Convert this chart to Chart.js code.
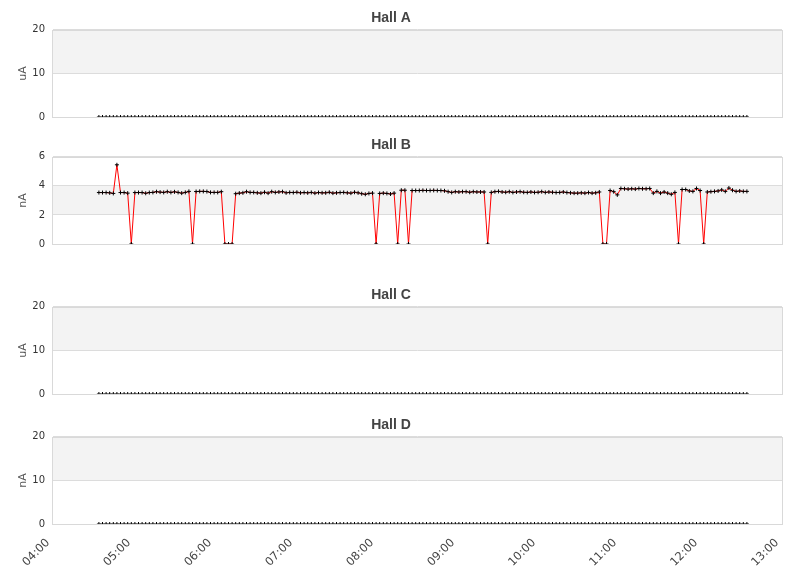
<!DOCTYPE html>
<html><head><meta charset="utf-8">
<script src="https://cdn.jsdelivr.net/npm/chart.js@4.4.1/dist/chart.umd.min.js"></script>
<style>
html,body{margin:0;padding:0;background:#fff;}
#wrap{position:relative;width:811px;height:578px;overflow:hidden;background:#fff;}
canvas{position:absolute;left:0;}
</style></head><body>
<div id="wrap">
<canvas id="cA" width="811" height="131" style="top:0px;width:811px;height:131px"></canvas>
<canvas id="cB" width="811" height="131" style="top:127px;width:811px;height:131px"></canvas>
<canvas id="cC" width="811" height="131" style="top:277px;width:811px;height:131px"></canvas>
<canvas id="cD" width="811" height="171" style="top:407px;width:811px;height:171px"></canvas>
</div>
<script>
// ---- data ----
const panelTitles = ['Hall A', 'Hall B', 'Hall C', 'Hall D'];
const panelUnits = ['uA', 'nA', 'uA', 'nA'];
const xTickMinutes = [240, 300, 360, 420, 480, 540, 600, 660, 720, 780]; // 04:00 .. 13:00
const sampleStartMinute = 274;   // 04:34
const sampleEndMinute = 754;     // 12:34

const hallBValues = [
  3.54, 3.54, 3.54, 3.52, 3.48, 5.45, 3.54, 3.54, 3.50, 0,
  3.54, 3.54, 3.54, 3.49, 3.54, 3.55, 3.60, 3.57, 3.55, 3.60,
  3.55, 3.59, 3.55, 3.50, 3.55, 3.62, 0, 3.61, 3.62, 3.62,
  3.61, 3.55, 3.55, 3.55, 3.60, 0, 0, 0, 3.46, 3.50,
  3.52, 3.60, 3.55, 3.55, 3.52, 3.50, 3.56, 3.50, 3.60, 3.55,
  3.58, 3.60, 3.52, 3.55, 3.54, 3.56, 3.52, 3.54, 3.52, 3.55,
  3.50, 3.54, 3.52, 3.52, 3.56, 3.50, 3.52, 3.54, 3.55, 3.52,
  3.50, 3.56, 3.52, 3.46, 3.42, 3.48, 3.50, 0, 3.48, 3.50,
  3.48, 3.44, 3.50, 0, 3.70, 3.70, 0, 3.68, 3.68, 3.68,
  3.69, 3.68, 3.68, 3.69, 3.68, 3.68, 3.66, 3.60, 3.55, 3.60,
  3.58, 3.60, 3.60, 3.56, 3.60, 3.58, 3.58, 3.58, 0, 3.55,
  3.60, 3.62, 3.58, 3.56, 3.60, 3.55, 3.58, 3.60, 3.56, 3.55,
  3.58, 3.55, 3.56, 3.60, 3.55, 3.58, 3.56, 3.54, 3.55, 3.58,
  3.54, 3.52, 3.50, 3.50, 3.52, 3.50, 3.54, 3.50, 3.52, 3.58,
  0, 0, 3.68, 3.60, 3.38, 3.82, 3.80, 3.78, 3.80, 3.78,
  3.82, 3.80, 3.80, 3.82, 3.50, 3.62, 3.50, 3.58, 3.50, 3.42,
  3.55, 0, 3.75, 3.75, 3.65, 3.62, 3.82, 3.68, 0, 3.58,
  3.60, 3.62, 3.65, 3.72, 3.62, 3.85, 3.70, 3.62, 3.65, 3.62, 3.62
];

const hallAValues = [
  0,0,0,0,0,0,0,0,0,0,0,0,0,0,0,0,0,0,0,0,
  0,0,0,0,0,0,0,0,0,0,0,0,0,0,0,0,0,0,0,0,
  0,0,0,0,0,0,0,0,0,0,0,0,0,0,0,0,0,0,0,0,
  0,0,0,0,0,0,0,0,0,0,0,0,0,0,0,0,0,0,0,0,
  0,0,0,0,0,0,0,0,0,0,0,0,0,0,0,0,0,0,0,0,
  0,0,0,0,0,0,0,0,0,0,0,0,0,0,0,0,0,0,0,0,
  0,0,0,0,0,0,0,0,0,0,0,0,0,0,0,0,0,0,0,0,
  0,0,0,0,0,0,0,0,0,0,0,0,0,0,0,0,0,0,0,0,
  0,0,0,0,0,0,0,0,0,0,0,0,0,0,0,0,0,0,0,0,
  0
];
const hallCValues = [
  0,0,0,0,0,0,0,0,0,0,0,0,0,0,0,0,0,0,0,0,
  0,0,0,0,0,0,0,0,0,0,0,0,0,0,0,0,0,0,0,0,
  0,0,0,0,0,0,0,0,0,0,0,0,0,0,0,0,0,0,0,0,
  0,0,0,0,0,0,0,0,0,0,0,0,0,0,0,0,0,0,0,0,
  0,0,0,0,0,0,0,0,0,0,0,0,0,0,0,0,0,0,0,0,
  0,0,0,0,0,0,0,0,0,0,0,0,0,0,0,0,0,0,0,0,
  0,0,0,0,0,0,0,0,0,0,0,0,0,0,0,0,0,0,0,0,
  0,0,0,0,0,0,0,0,0,0,0,0,0,0,0,0,0,0,0,0,
  0,0,0,0,0,0,0,0,0,0,0,0,0,0,0,0,0,0,0,0,
  0
];
const hallDValues = [
  0,0,0,0,0,0,0,0,0,0,0,0,0,0,0,0,0,0,0,0,
  0,0,0,0,0,0,0,0,0,0,0,0,0,0,0,0,0,0,0,0,
  0,0,0,0,0,0,0,0,0,0,0,0,0,0,0,0,0,0,0,0,
  0,0,0,0,0,0,0,0,0,0,0,0,0,0,0,0,0,0,0,0,
  0,0,0,0,0,0,0,0,0,0,0,0,0,0,0,0,0,0,0,0,
  0,0,0,0,0,0,0,0,0,0,0,0,0,0,0,0,0,0,0,0,
  0,0,0,0,0,0,0,0,0,0,0,0,0,0,0,0,0,0,0,0,
  0,0,0,0,0,0,0,0,0,0,0,0,0,0,0,0,0,0,0,0,
  0,0,0,0,0,0,0,0,0,0,0,0,0,0,0,0,0,0,0,0,
  0
];
const yMaxes = [20, 6, 20, 20];
const ySteps = [10, 2, 10, 10];

// ---- rendering ----
Chart.defaults.font.family = "'DejaVu Sans', sans-serif";

function sampleTimes(n) {
  const step = (sampleEndMinute - sampleStartMinute) / (n - 1);
  const out = [];
  for (let i = 0; i < n; i++) out.push(sampleStartMinute + i * step);
  return out;
}
function fmtTime(m) {
  const h = Math.floor(m / 60), mm = Math.round(m % 60);
  return String(h).padStart(2, '0') + ':' + String(mm).padStart(2, '0');
}

const bandPlugin = {
  id: 'bands',
  beforeDraw(chart) {
    const { ctx, chartArea: a } = chart;
    const y = chart.scales.y;
    const t = y.ticks;
    ctx.save();
    for (let i = 0; i < t.length - 1; i++) {
      if (i % 2 === 1) {
        const y0 = y.getPixelForValue(t[i].value);
        const y1 = y.getPixelForValue(t[i + 1].value);
        ctx.fillStyle = '#f3f3f3';
        ctx.fillRect(a.left, y1, a.right - a.left, y0 - y1);
      }
    }
    ctx.restore();
  },
  beforeDatasetsDraw(chart) {
    const { ctx, chartArea: a } = chart;
    ctx.save();
    ctx.strokeStyle = '#d9d9d9';
    ctx.lineWidth = 1;
    const l = Math.round(a.left) - 0.5, t = Math.round(a.top) + 0.5;
    const r = Math.round(a.right) + 0.5, b = Math.round(a.bottom) + 0.5;
    ctx.strokeRect(l, t, r - l, b - t);
    ctx.restore();
  }
};

const seriesList = [hallAValues, hallBValues, hallCValues, hallDValues];
const canvasIds = ['cA', 'cB', 'cC', 'cD'];

canvasIds.forEach((id, k) => {
  const vals = seriesList[k];
  const times = sampleTimes(vals.length);
  const showX = (k === 3);
  const hasLine = (k === 1);
  new Chart(document.getElementById(id), {
    type: 'line',
    data: {
      datasets: [{
        data: vals.map((v, i) => ({ x: times[i], y: v })),
        borderColor: '#ff0000',
        borderWidth: 1,
        showLine: hasLine,
        tension: 0,
        pointStyle: 'cross',
        pointRadius: 2,
        pointHoverRadius: 2,
        pointBorderColor: '#000000',
        pointBorderWidth: 1,
        fill: false
      }]
    },
    options: {
      responsive: false,
      animation: false,
      events: [],
      layout: { padding: { left: 0, right: 29, top: 0, bottom: showX ? 0 : 2 } },
      plugins: {
        legend: { display: false },
        tooltip: { enabled: false },
        title: {
          display: true,
          text: panelTitles[k],
          color: '#444444',
          font: { family: "'Liberation Sans', Arial, sans-serif", size: 14, weight: 'bold' },
          padding: { top: 10, bottom: 3 }
        }
      },
      scales: {
        x: {
          type: 'linear',
          min: xTickMinutes[0],
          max: xTickMinutes[xTickMinutes.length - 1],
          display: showX,
          grid: { display: false },
          border: { display: false },
          afterBuildTicks: (s) => { s.ticks = xTickMinutes.map(v => ({ value: v })); },
          afterFit: (s) => { if (showX) s.height = 54; },
          ticks: {
            autoSkip: false,
            minRotation: 45,
            maxRotation: 45,
            padding: 4,
            labelOffset: -5,
            color: '#444444',
            font: { size: 11.5 },
            callback: (v) => fmtTime(v)
          }
        },
        y: {
          min: 0,
          max: yMaxes[k],
          afterFit: (s) => { s.width = 53; },
          grid: { color: '#dcdcdc', drawTicks: false },
          border: { display: false },
          ticks: { stepSize: ySteps[k], padding: 8, color: '#333333', font: { size: 10 } },
          title: { display: true, text: panelUnits[k], color: '#555555', font: { size: 11 }, padding: { top: 17, bottom: 0 } }
        }
      }
    },
    plugins: [bandPlugin]
  });
});
</script>
</body></html>
